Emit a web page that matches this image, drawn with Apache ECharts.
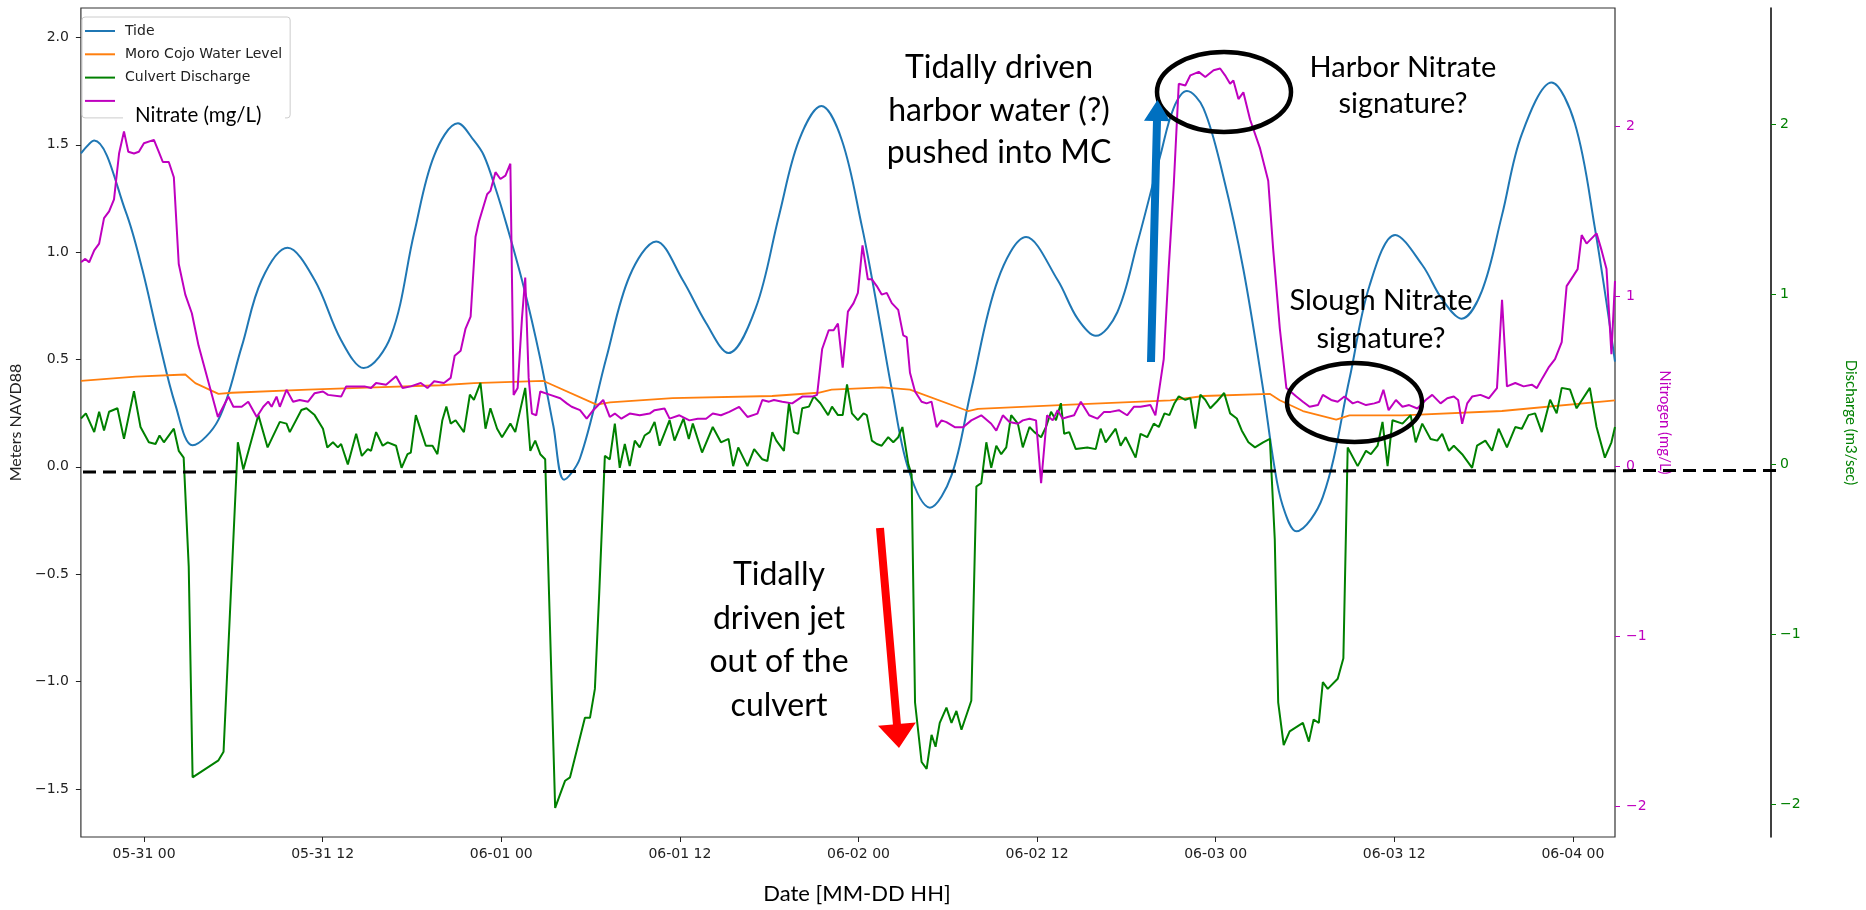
<!DOCTYPE html>
<html>
<head>
<meta charset="utf-8">
<script src="https://cdn.jsdelivr.net/npm/echarts@6/dist/echarts.min.js"></script>
<style>
  html, body { margin: 0; padding: 0; background: #ffffff; }
  #chart { width: 1866px; height: 910px; }
</style>
</head>
<body>
<div id="chart"></div>
<script>
// Time is stored as hours since 05-31 00:00.
const xTickHours = [0, 12, 24, 36, 48, 60, 72, 84, 96];
const levelTicks = [-1.5, -1.0, -0.5, 0.0, 0.5, 1.0, 1.5, 2.0];
const nitrogenTicks = [-2, -1, 0, 1, 2];
const dischargeTicks = [-2, -1, 0, 1, 2];

// Tide (m NAVD88)
const tideHours = [-4.24,-3.35,-1.24,-0.12,0.99,2.1,3.26,5.0,6.56,7.9,9.64,11.46,13.24,14.76,16.59,18.15,19.49,21.09,22.16,22.83,23.6,24.39,25.5,26.6,27.5,28.22,29.29,31.07,32.63,34.41,36.19,37.76,39.27,41.1,42.66,44.0,45.51,46.89,48.23,48.9,49.57,50.24,51.35,52.8,54.25,55.58,57.36,59.26,61.38,62.72,63.94,65.39,66.73,68.28,69.17,70.07,71.18,72.52,73.86,75.19,75.9,76.5,77.42,79.2,80.99,82.32,84.06,85.88,87.22,88.52,89.89,91.23,92.57,94.57,96.13,97.46,98.83];
const tideLevel = [1.46,1.52,1.19,0.92,0.59,0.29,0.10,0.22,0.56,0.87,1.02,0.87,0.59,0.46,0.61,1.09,1.45,1.60,1.52,1.45,1.30,1.12,0.84,0.51,0.19,-0.06,0.04,0.51,0.89,1.05,0.87,0.67,0.53,0.74,1.17,1.52,1.68,1.52,1.12,0.88,0.62,0.36,-0.01,-0.19,-0.04,0.36,0.87,1.07,0.87,0.69,0.61,0.72,1.04,1.45,1.67,1.75,1.67,1.35,0.92,0.36,0.02,-0.18,-0.30,-0.14,0.41,0.84,1.08,0.94,0.78,0.69,0.82,1.17,1.55,1.79,1.60,1.12,0.49];

// Moro Cojo water level (m NAVD88)
const waterHours = [-4.24,-0.57,2.77,3.44,5.0,5.9,11.02,15.48,19.9,22.16,26.84,30.4,31.3,35.5,42.2,45.3,46.2,49.6,51.46,55.36,56.03,62.27,68.95,71.18,75.63,76.3,77.86,80.1,80.99,84.55,91.23,98.83];
const waterLevel = [0.40,0.42,0.43,0.39,0.34,0.345,0.36,0.37,0.38,0.39,0.40,0.29,0.30,0.32,0.33,0.345,0.36,0.37,0.36,0.26,0.27,0.29,0.31,0.33,0.34,0.31,0.26,0.22,0.24,0.24,0.26,0.31];

// Culvert discharge (m3/sec)
const dischargeHours = [-4.24,-3.91,-3.35,-3.02,-2.69,-2.35,-1.79,-1.35,-0.68,-0.24,0.32,0.77,1.04,1.33,2.0,2.33,2.66,3.0,3.26,5.0,5.34,6.3,6.67,7.68,8.3,9.12,9.57,9.79,10.57,10.91,11.46,12.02,12.31,12.69,13.02,13.24,13.69,14.25,14.63,15.03,15.25,15.59,16.03,16.37,16.93,17.3,17.7,17.92,18.26,18.93,19.38,19.71,20.04,20.31,20.6,20.93,21.49,21.89,22.16,22.6,
  22.94,23.27,23.72,24.05,24.61,24.94,25.61,25.95,26.28,26.62,26.95,27.62,27.95,28.29,28.62,29.62,29.96,30.29,30.58,30.96,31.29,31.63,31.96,32.3,32.63,32.97,33.3,33.63,33.97,34.3,34.64,35.31,35.64,36.24,36.6,36.87,37.49,38.21,38.76,39.27,39.58,39.92,40.54,40.99,41.54,41.88,42.21,42.48,42.99,43.33,43.66,43.95,44.22,44.67,45.0,45.44,45.96,46.22,46.62,46.94,47.23,47.56,47.96,48.34,48.56,
  48.9,49.23,49.56,50.0,50.34,50.67,50.95,51.35,51.57,51.8,52.24,52.58,52.91,53.18,53.46,53.91,54.25,54.58,54.92,55.58,55.92,56.25,56.59,56.92,57.26,57.59,57.93,58.26,58.71,59.04,59.49,59.82,60.27,60.6,60.94,61.27,61.6,61.82,62.16,62.6,63.38,63.94,64.27,64.61,65.28,65.61,65.95,66.62,66.95,67.4,67.84,68.18,68.56,68.89,69.23,69.52,69.96,70.3,70.63,70.97,71.3,71.64,72.08,72.57,72.97,73.42,73.75,74.2,74.64,75.19,75.64,
  75.97,76.2,76.57,76.97,77.86,78.26,78.58,78.93,79.2,79.53,80.2,80.58,80.87,81.54,82.1,82.43,82.88,83.21,83.55,83.88,84.55,85.1,85.44,85.88,86.44,86.89,87.22,87.67,88.0,88.56,89.23,89.56,90.12,90.57,91.01,91.57,92.13,92.57,93.02,93.46,93.91,94.47,94.91,95.25,95.81,96.25,97.14,97.59,98.15,98.59,98.83];
const dischargeFlow = [0.27,0.30,0.19,0.31,0.20,0.31,0.33,0.15,0.43,0.22,0.13,0.12,0.17,0.13,0.21,0.08,0.04,-0.60,-1.84,-1.74,-1.69,0.13,-0.03,0.29,0.10,0.25,0.24,0.19,0.32,0.33,0.29,0.21,0.10,0.13,0.10,0.12,0.00,0.18,0.05,0.09,0.08,0.19,0.11,0.13,0.11,-0.02,0.06,0.07,0.29,0.11,0.11,0.06,0.26,0.34,0.24,0.26,0.19,0.41,0.38,0.48,
  0.21,0.33,0.21,0.16,0.24,0.19,0.45,0.08,0.14,0.06,0.03,-2.02,-1.94,-1.86,-1.84,-1.49,-1.49,-1.32,-0.76,0.05,0.03,0.24,-0.02,0.12,-0.01,0.14,0.10,0.17,0.19,0.25,0.11,0.26,0.14,0.27,0.15,0.24,0.07,0.22,0.13,0.15,-0.01,0.10,-0.01,0.09,0.03,0.02,0.19,0.14,0.08,0.36,0.19,0.18,0.33,0.34,0.40,0.36,0.29,0.34,0.29,0.29,0.47,0.30,0.26,0.30,0.29,
  0.14,0.12,0.11,0.16,0.13,0.16,0.22,0.00,-0.06,-1.40,-1.75,-1.79,-1.59,-1.66,-1.52,-1.43,-1.52,-1.45,-1.56,-1.39,-0.13,-0.11,0.13,-0.02,0.11,0.06,0.10,0.29,0.24,0.10,0.22,0.19,0.16,0.22,0.31,0.26,0.36,0.18,0.19,0.09,0.10,0.09,0.21,0.13,0.21,0.11,0.16,0.04,0.18,0.16,0.24,0.22,0.30,0.29,0.36,0.40,0.38,0.39,0.21,0.41,0.38,0.33,0.37,0.42,0.30,0.27,0.20,0.13,0.10,0.13,0.15,
  -0.44,-1.40,-1.65,-1.57,-1.52,-1.63,-1.50,-1.52,-1.28,-1.32,-1.26,-1.14,0.10,-0.01,0.08,0.06,0.11,0.25,-0.01,0.26,0.24,0.29,0.13,0.24,0.15,0.14,0.18,0.08,0.11,0.06,-0.02,0.11,0.14,0.08,0.21,0.10,0.22,0.21,0.29,0.30,0.19,0.38,0.30,0.45,0.44,0.33,0.45,0.22,0.04,0.13,0.22];

// Nitrate (mg/L)
const nitrateHours = [-4.24,-3.95,-3.69,-3.35,-3.02,-2.69,-2.35,-2.02,-1.68,-1.35,-1.06,-0.68,-0.35,-0.01,0.66,0.99,1.26,1.66,2.0,2.33,2.77,3.21,3.66,4.96,5.67,6.0,6.56,7.0,7.57,8.01,8.34,8.57,8.9,9.12,9.57,10.01,10.46,11.02,11.46,12.02,12.36,13.24,13.58,14.14,14.81,15.25,15.59,16.26,16.93,17.37,17.92,18.59,19.04,19.49,20.15,20.6,20.87,21.27,21.6,21.94,22.27,
  22.5,23.05,23.27,23.61,23.94,24.28,24.61,24.83,25.1,25.39,25.61,25.84,26.06,26.35,26.62,27.29,27.96,28.4,28.73,29.29,29.74,30.18,30.85,31.29,31.63,32.07,32.63,33.3,33.97,34.3,34.97,35.31,35.97,36.64,37.2,37.76,38.21,38.76,39.32,39.98,40.54,41.21,41.54,41.99,42.32,42.88,43.55,44.22,44.89,45.22,45.56,46.0,46.33,46.62,46.94,47.29,47.67,47.96,48.27,48.63,
  48.9,49.23,49.56,49.9,50.24,50.67,51.01,51.24,51.46,51.8,52.24,52.58,52.91,53.25,53.58,53.91,54.47,55.03,55.58,56.25,56.92,57.26,57.7,58.15,58.71,59.04,59.49,59.93,60.27,60.67,61.05,61.38,61.72,62.05,62.49,62.94,63.5,64.05,64.5,64.94,65.5,66.05,66.5,66.95,67.62,67.95,68.51,68.84,69.18,69.52,69.96,70.3,70.86,71.3,71.86,72.3,72.63,72.97,73.19,73.53,73.86,74.31,74.98,75.53,75.86,76.31,
  76.75,77.42,77.86,78.31,78.87,79.2,79.76,80.2,80.65,81.21,81.54,82.1,82.66,83.0,83.27,83.62,84.11,84.55,85.0,85.55,86.11,86.55,87.11,87.56,88.0,88.29,88.56,88.9,89.23,89.79,90.35,90.9,91.24,91.57,92.13,92.69,93.24,93.58,93.96,94.36,94.8,95.25,95.58,96.03,96.32,96.59,96.92,97.59,97.93,98.26,98.59,98.83];
const nitrateConc = [1.20,1.22,1.20,1.27,1.31,1.46,1.50,1.57,1.84,1.97,1.85,1.84,1.85,1.90,1.92,1.85,1.79,1.79,1.70,1.19,1.01,0.90,0.71,0.29,0.41,0.35,0.35,0.38,0.29,0.35,0.38,0.35,0.41,0.35,0.45,0.38,0.39,0.38,0.43,0.44,0.42,0.41,0.47,0.47,0.47,0.46,0.49,0.48,0.53,0.46,0.47,0.49,0.46,0.50,0.49,0.52,0.65,0.68,0.81,0.88,1.35,
  1.44,1.60,1.62,1.73,1.69,1.71,1.78,0.42,0.46,0.87,1.11,0.52,0.31,0.30,0.44,0.42,0.40,0.37,0.35,0.33,0.28,0.33,0.39,0.29,0.31,0.28,0.31,0.30,0.31,0.33,0.34,0.28,0.30,0.27,0.28,0.28,0.31,0.30,0.32,0.35,0.29,0.31,0.39,0.38,0.39,0.38,0.37,0.41,0.41,0.42,0.69,0.80,0.80,0.84,0.58,0.91,0.96,1.02,1.30,1.10,
  1.10,1.06,1.01,1.02,0.96,0.92,0.77,0.76,0.55,0.44,0.38,0.37,0.38,0.23,0.27,0.26,0.23,0.23,0.27,0.30,0.25,0.21,0.30,0.26,0.25,0.27,0.28,0.27,-0.10,0.30,0.27,0.33,0.28,0.29,0.30,0.38,0.30,0.28,0.32,0.32,0.33,0.30,0.35,0.35,0.36,0.30,0.63,1.16,1.65,2.25,2.24,2.30,2.32,2.29,2.33,2.34,2.30,2.25,2.27,2.16,2.20,2.04,1.87,1.68,1.28,0.81,
  0.46,0.41,0.38,0.35,0.36,0.42,0.39,0.38,0.41,0.37,0.38,0.36,0.37,0.38,0.45,0.33,0.39,0.35,0.36,0.34,0.39,0.42,0.37,0.40,0.41,0.39,0.25,0.37,0.41,0.42,0.40,0.46,0.98,0.47,0.49,0.47,0.48,0.46,0.52,0.58,0.63,0.73,1.06,1.12,1.16,1.36,1.31,1.37,1.27,1.16,0.66,1.09];

const zip = (xs, ys) => xs.map((x, i) => [x, ys[i]]);
const minus = s => String(s).replace('-', '\u2212');
const pad2 = n => String(n).padStart(2, '0');
function dateLabel(h) {
  const d = new Date(Date.UTC(2000, 4, 31) + h * 3600 * 1000);
  return pad2(d.getUTCMonth() + 1) + '-' + pad2(d.getUTCDate()) + ' ' + pad2(d.getUTCHours());
}

// Block arrow outline from tail (x1,y1) to tip (x2,y2)
function blockArrow(x1, y1, x2, y2, shaft, headW, headL) {
  const dx = x2 - x1, dy = y2 - y1, len = Math.hypot(dx, dy);
  const ux = dx / len, uy = dy / len, px = -uy, py = ux;
  const bx = x2 - ux * headL, by = y2 - uy * headL, s = shaft / 2, h = headW / 2;
  return [[x1 + px * s, y1 + py * s], [bx + px * s, by + py * s], [bx + px * h, by + py * h], [x2, y2],
          [bx - px * h, by - py * h], [bx - px * s, by - py * s], [x1 - px * s, y1 - py * s]];
}

const TICK_FONT = 'DejaVu Sans';
const NOTE_FONT = 'Lato';
const MAGENTA = '#bf00bf';
const GREEN = '#008000';

const chart = echarts.init(document.getElementById('chart'), null, { renderer: 'canvas' });

const noteText = (x, y, text, size, lh) => ({
  type: 'text', x, y, z: 120,
  style: { text, fill: '#000', fontFamily: NOTE_FONT, fontSize: size, lineHeight: lh, align: 'center', verticalAlign: 'middle' }
});

chart.setOption({
  animation: false,
  backgroundColor: '#ffffff',
  grid: { left: 75, top: 8, width: 1542, height: 832, show: true, borderColor: '#333', borderWidth: 1.2, backgroundColor: 'transparent' },
  legend: {
    left: 82, top: 17, orient: 'vertical', selectedMode: false,
    padding: [6, 8, 9, 3], itemGap: 7.3, itemWidth: 30, itemHeight: 2, icon: 'rect',
    backgroundColor: 'rgba(255,255,255,0.8)', borderColor: '#cccccc', borderWidth: 1, borderRadius: 3,
    data: ['Tide', 'Moro Cojo Water Level', 'Culvert Discharge', 'Nitrate (mg/L)'],
    formatter: name => (name === 'Nitrate (mg/L)' ? ' ' : name),
    textStyle: { fontFamily: TICK_FONT, fontSize: 14, color: '#222', lineHeight: 16, height: 16, padding: [0, 0, 0, 5] }
  },
  xAxis: {
    type: 'value', min: -4.245, max: 98.83,
    name: 'Date [MM-DD HH]', nameLocation: 'middle', nameGap: 46,
    nameTextStyle: { fontFamily: NOTE_FONT, fontSize: 22, color: '#000', padding: [0, 0, 0, 18] },
    axisLine: { show: false, onZero: false },
    axisTick: { show: true, length: 5, lineStyle: { color: '#222' }, customValues: xTickHours },
    axisLabel: { margin: 10, fontFamily: TICK_FONT, fontSize: 14, color: '#222', customValues: xTickHours, formatter: dateLabel },
    splitLine: { show: false }
  },
  yAxis: [
    {
      type: 'value', position: 'left', min: -1.724, max: 2.137,
      name: 'Meters NAVD88', nameLocation: 'middle', nameGap: 54, nameRotate: 90,
      nameTextStyle: { fontFamily: NOTE_FONT, fontSize: 16, color: '#222' },
      axisLine: { show: false, onZero: false },
      axisTick: { show: true, length: 5, lineStyle: { color: '#222' }, customValues: levelTicks },
      axisLabel: { margin: 12, fontFamily: TICK_FONT, fontSize: 14, color: '#222', customValues: levelTicks, formatter: v => minus(v.toFixed(1)) },
      splitLine: { show: false }
    },
    {
      type: 'value', position: 'right', offset: 0, min: -2.181, max: 2.696,
      name: 'Nitrogen (mg/L)', nameLocation: 'middle', nameGap: 40, nameRotate: -90,
      nameTextStyle: { fontFamily: NOTE_FONT, fontSize: 15, color: MAGENTA },
      axisLine: { show: false, onZero: false },
      axisTick: { show: true, length: 5, lineStyle: { color: MAGENTA }, customValues: nitrogenTicks },
      axisLabel: { margin: 11, fontFamily: TICK_FONT, fontSize: 14, color: MAGENTA, customValues: nitrogenTicks, formatter: v => minus(v) },
      splitLine: { show: false }
    },
    {
      type: 'value', position: 'right', offset: 156, min: -2.191, max: 2.684,
      name: 'Discharge (m3/sec)', nameLocation: 'middle', nameGap: 72, nameRotate: -90,
      nameTextStyle: { fontFamily: NOTE_FONT, fontSize: 15, color: GREEN },
      axisLine: { show: true, onZero: false, lineStyle: { color: '#000', width: 1.5 } },
      axisTick: { show: true, length: 5, lineStyle: { color: GREEN }, customValues: dischargeTicks },
      axisLabel: { margin: 9, fontFamily: TICK_FONT, fontSize: 14, color: GREEN, customValues: dischargeTicks, formatter: v => minus(v) },
      splitLine: { show: false }
    }
  ],
  series: [
    { name: 'Tide', type: 'line', yAxisIndex: 0, data: zip(tideHours, tideLevel), smooth: 0.35, showSymbol: false, symbol: 'none',
      lineStyle: { color: '#1f77b4', width: 2 }, itemStyle: { color: '#1f77b4' }, z: 2 },
    { name: 'Moro Cojo Water Level', type: 'line', yAxisIndex: 0, data: zip(waterHours, waterLevel), showSymbol: false, symbol: 'none',
      lineStyle: { color: '#ff7f0e', width: 1.8 }, itemStyle: { color: '#ff7f0e' }, z: 3 },
    { name: 'Culvert Discharge', type: 'line', yAxisIndex: 2, data: zip(dischargeHours, dischargeFlow), showSymbol: false, symbol: 'none',
      lineStyle: { color: GREEN, width: 2 }, itemStyle: { color: GREEN }, z: 4 },
    { name: 'Nitrate (mg/L)', type: 'line', yAxisIndex: 1, data: zip(nitrateHours, nitrateConc), showSymbol: false, symbol: 'none',
      lineStyle: { color: MAGENTA, width: 2 }, itemStyle: { color: MAGENTA }, z: 5 }
  ],
  graphic: { elements: [
    // zero-discharge reference line
    { type: 'line', z: 110, shape: { x1: 83, y1: 472, x2: 1777, y2: 470.5 },
      style: { stroke: '#000', lineWidth: 3, lineDash: [13, 7] } },
    // legend label panel for the nitrate entry
    { type: 'rect', z: 115, shape: { x: 123, y: 100, width: 162, height: 30 }, style: { fill: '#ffffff' } },
    { type: 'text', z: 116, x: 135, y: 115,
      style: { text: 'Nitrate (mg/L)', fill: '#000', fontFamily: NOTE_FONT, fontSize: 20.5, verticalAlign: 'middle' } },
    // annotations
    noteText(999, 110.5, 'Tidally driven\nharbor water (?)\npushed into MC', 32, 42.5),
    noteText(1403, 86, 'Harbor Nitrate\nsignature?', 29, 36),
    noteText(1381, 320, 'Slough Nitrate\nsignature?', 29, 38),
    noteText(779, 640, 'Tidally\ndriven jet\nout of the\nculvert', 32, 43.5),
    { type: 'ellipse', z: 118, shape: { cx: 1224, cy: 92, rx: 67, ry: 40 }, style: { fill: null, stroke: '#000', lineWidth: 4.5 } },
    { type: 'ellipse', z: 118, shape: { cx: 1354.5, cy: 402.5, rx: 67.5, ry: 39.5 }, style: { fill: null, stroke: '#000', lineWidth: 4.5 } },
    { type: 'polygon', z: 119, shape: { points: blockArrow(880, 528, 899, 748, 8, 38, 24) }, style: { fill: '#ff0000' } },
    { type: 'polygon', z: 119, shape: { points: blockArrow(1151, 362, 1157.5, 100, 8, 26, 21) }, style: { fill: '#0070c0' } }
  ] }
});
</script>
</body>
</html>
